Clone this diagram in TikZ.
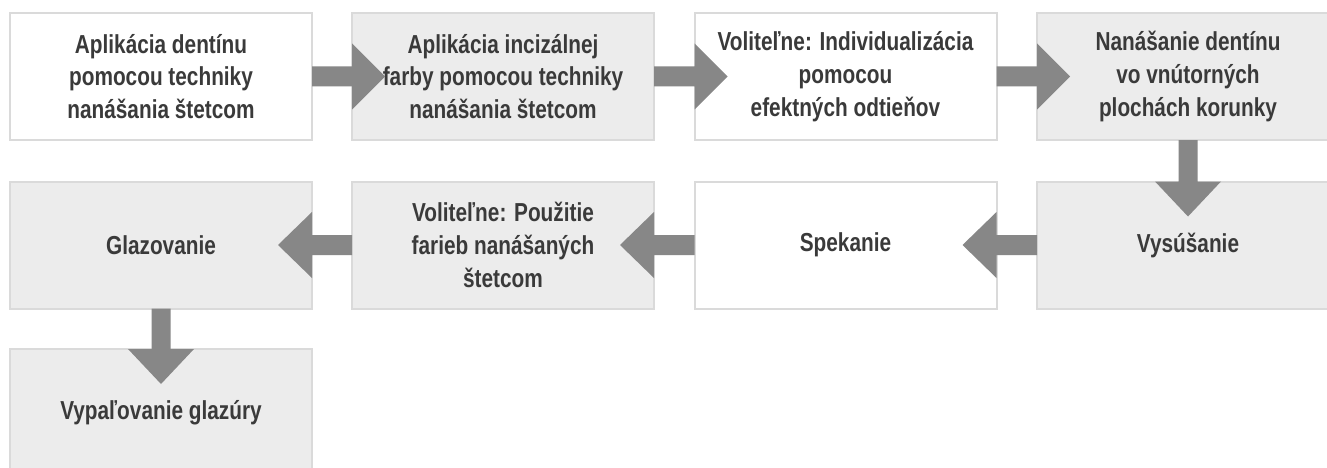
\documentclass[tikz,border=0pt]{standalone}
\usepackage{fontspec}
\setmainfont{Liberation Sans}[FakeStretch=0.80]
\usetikzlibrary{calc}
\definecolor{boxline}{HTML}{DADADA}
\definecolor{boxgray}{HTML}{ECECEC}
\definecolor{arrowgray}{HTML}{878787}
\definecolor{txtgray}{HTML}{3A3A3A}
\newcommand\flowR[2]{\fill[arr] ($(#1.east)+(0,-10)$) -- ($(#2.west)+(0,-10)$) -- ($(#2.west)+(0,-33)$) -- ($(#2.west)+(33,0)$) -- ($(#2.west)+(0,33)$) -- ($(#2.west)+(0,10)$) -- ($(#1.east)+(0,10)$) -- cycle;}
\newcommand\flowL[2]{\fill[arr] ($(#1.west)+(0,-10)$) -- ($(#2.east)+(0,-10)$) -- ($(#2.east)+(0,-33)$) -- ($(#2.east)+(-34,0)$) -- ($(#2.east)+(0,33)$) -- ($(#2.east)+(0,10)$) -- ($(#1.west)+(0,10)$) -- cycle;}
\newcommand\flowD[2]{\fill[arr] ($(#1.south)+(-9.5,0)$) -- ($(#2.north)+(-9.5,0)$) -- ($(#2.north)+(-33,0)$) -- ($(#2.north)+(0,35)$) -- ($(#2.north)+(33,0)$) -- ($(#2.north)+(9.5,0)$) -- ($(#1.south)+(9.5,0)$) -- cycle;}
\begin{document}
\begin{tikzpicture}[x=1pt,y=-1pt,
  stepbox/.style={draw=boxline, line width=2pt, minimum width=302pt, minimum height=127pt,
    inner sep=0pt, outer sep=0pt, align=center, text=txtgray,
    font=\fontsize{26}{32.7}\selectfont\bfseries},
  wbox/.style={stepbox, fill=white},
  gbox/.style={stepbox, fill=boxgray},
  arr/.style={fill=arrowgray}]
\clip (0,0) rectangle (1327,468);
\fill[white] (0,0) rectangle (1327,468);
% row 1
\node[wbox] (a1) at (161,76.5) {Aplikácia dentínu\\pomocou techniky\\nanášania štetcom};
\node[gbox] (a2) at (503,76.5) {Aplikácia incizálnej\\farby pomocou techniky\\nanášania štetcom};
\node[wbox] (a3) at (845.5,76.5) {Voliteľne: Individualizácia\\pomocou\\efektných odtieňov};
\node[gbox] (a4) at (1188,76.5) {Nanášanie dentínu\\vo vnútorných\\plochách korunky};
% row 2
\node[gbox] (b4) at (1188,245) {Vysúšanie};
\node[wbox] (b3) at (845.5,245) {Spekanie};
\node[gbox] (b2) at (503,245) {Voliteľne: Použitie\\farieb nanášaných\\štetcom};
\node[gbox] (b1) at (161,245) {Glazovanie};
% row 3
\node[gbox] (c1) at (161,412.5) {Vypaľovanie glazúry};
% arrows
\flowR{a1}{a2}
\flowR{a2}{a3}
\flowR{a3}{a4}
\flowD{a4}{b4}
\flowL{b4}{b3}
\flowL{b3}{b2}
\flowL{b2}{b1}
\flowD{b1}{c1}
\end{tikzpicture}
\end{document}
